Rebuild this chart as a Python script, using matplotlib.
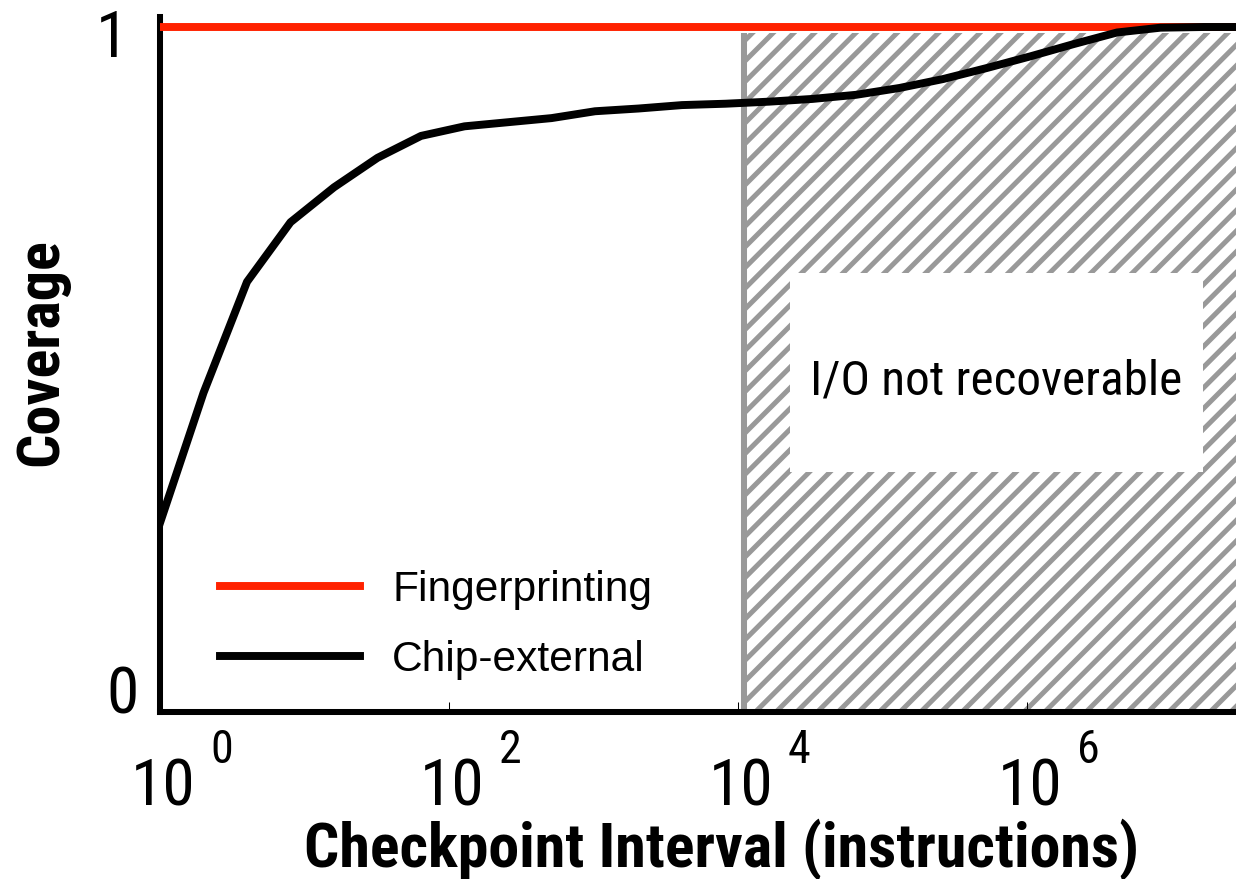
import matplotlib

matplotlib.use("Agg")

import matplotlib.pyplot as plt  # isort: skip
from matplotlib import font_manager  # isort: skip
from matplotlib.patches import Rectangle  # isort: skip


DPI = 124

# checkpoint interval (instructions) and chip-external coverage at each interval
intervals = [
    1, 2, 4, 8, 16, 32, 64, 128, 256, 512, 1024, 2048, 4096, 8192,
    16384, 32768, 65536, 131072, 262144, 524288, 1048576, 2097152,
    4194304, 8388608, 16777216, 33554432,
]
chip_external = [
    0.276, 0.466, 0.628, 0.715, 0.766, 0.809, 0.841, 0.855, 0.861, 0.867,
    0.877, 0.881, 0.886, 0.888, 0.891, 0.895, 0.901, 0.911, 0.924, 0.940,
    0.957, 0.975, 0.992, 0.999, 1.0, 1.0,
]
fingerprinting = 1.0

# beyond this interval I/O can no longer be recovered
io_limit = 1.1e4

x_ticks = [1, 1e2, 1e4, 1e6]
x_exponents = ["0", "2", "4", "6"]
x_min, x_max = 1, 10 ** 7.446

y_ticks = [0, 1]
y_labels = ["0", "1"]

# axis text is set in a narrow face when one is installed
installed = {f.name for f in font_manager.fontManager.ttflist}
NARROW = next((name for name in ("Liberation Sans Narrow", "Arial Narrow",
                                 "Nimbus Sans Narrow", "Roboto Condensed")
               if name in installed), None)
if NARROW:
    narrow_family = [NARROW, "DejaVu Sans"]
    shrink = 1.0
else:
    narrow_family = ["Liberation Sans", "DejaVu Sans"]
    shrink = 0.9

plt.rcParams["font.family"] = ["Liberation Sans", "DejaVu Sans"]
plt.rcParams["hatch.linewidth"] = 2.9


def plot_coverage():
    fig = plt.figure(figsize=(1236 / DPI, 879 / DPI), dpi=DPI)
    ax = fig.add_axes([160 / 1236, 167 / 879, 1076 / 1236, 695 / 879])

    ax.set_xscale("log")
    ax.set_xlim(x_min, x_max)
    ax.set_ylim(0, 1.0146)

    # shaded "not recoverable" region
    ax.fill_between([io_limit, x_max], 0, 0.991, facecolor="white",
                    edgecolor="#999999", hatch="//", linewidth=0, zorder=1)
    ax.plot([io_limit, io_limit], [0, 0.991], color="#999999", lw=3.5,
            solid_capstyle="butt", zorder=2)
    ax.add_patch(Rectangle((2.29e4, 0.350), 1.65e7 - 2.29e4, 0.291,
                           facecolor="white", edgecolor="none", zorder=2))
    ax.text(10 ** 5.786, 0.4628, "I/O not recoverable", ha="center",
            va="baseline", fontsize=28.5 * shrink, family=narrow_family,
            zorder=3)

    ax.axhline(fingerprinting, color="#ff2200", lw=4.6, zorder=4,
               label="Fingerprinting")
    ax.plot(intervals, chip_external, color="black", lw=4.6, zorder=5,
            label="Chip-external")

    for side in ("top", "right"):
        ax.spines[side].set_visible(False)
    for side in ("left", "bottom"):
        ax.spines[side].set_linewidth(3.5)

    ax.set_xticks(x_ticks)
    ax.set_xticklabels([""] * len(x_ticks))
    ax.minorticks_off()
    ax.tick_params(axis="x", direction="in", length=6, width=0.6)
    for tick, exp in zip(x_ticks, x_exponents):
        ax.annotate("10", (tick, 0), xycoords=ax.get_xaxis_transform(),
                    xytext=(3, -93), textcoords="offset pixels",
                    ha="center", va="baseline", fontsize=38 * shrink,
                    family=narrow_family, annotation_clip=False)
        ax.annotate(exp, (tick, 0), xycoords=ax.get_xaxis_transform(),
                    xytext=(50, -51), textcoords="offset pixels",
                    ha="left", va="baseline", fontsize=26.7 * shrink,
                    family=narrow_family, annotation_clip=False)

    # y labels sit just above their tick values
    ax.set_yticks(y_ticks)
    ax.set_yticklabels([""] * len(y_ticks))
    ax.tick_params(axis="y", length=0)
    for tick, label, offset in zip(y_ticks, y_labels, [(-21, -1), (-32, -30)]):
        ax.annotate(label, (0, tick), xycoords=ax.get_yaxis_transform(),
                    xytext=offset, textcoords="offset pixels",
                    ha="right", va="baseline", fontsize=38 * shrink,
                    family=narrow_family, annotation_clip=False)

    fig.text(722 / 1236, 12 / 879, "Checkpoint Interval (instructions)",
             ha="center", va="baseline", fontsize=36 * shrink,
             fontweight="bold", family=narrow_family)
    fig.text(57 / 1236, (879 - 352) / 879, "Coverage", rotation=90,
             rotation_mode="anchor", ha="center", va="baseline",
             fontsize=35 * shrink, fontweight="bold", family=narrow_family)

    ax.legend(loc="lower left", bbox_to_anchor=(0.0558, 0.046),
              frameon=False, fontsize=24.7, handlelength=3.3,
              handletextpad=0.75, labelspacing=0.71, borderpad=0,
              borderaxespad=0)

    fig.savefig("out.png", dpi=DPI)


if __name__ == "__main__":
    plot_coverage()
